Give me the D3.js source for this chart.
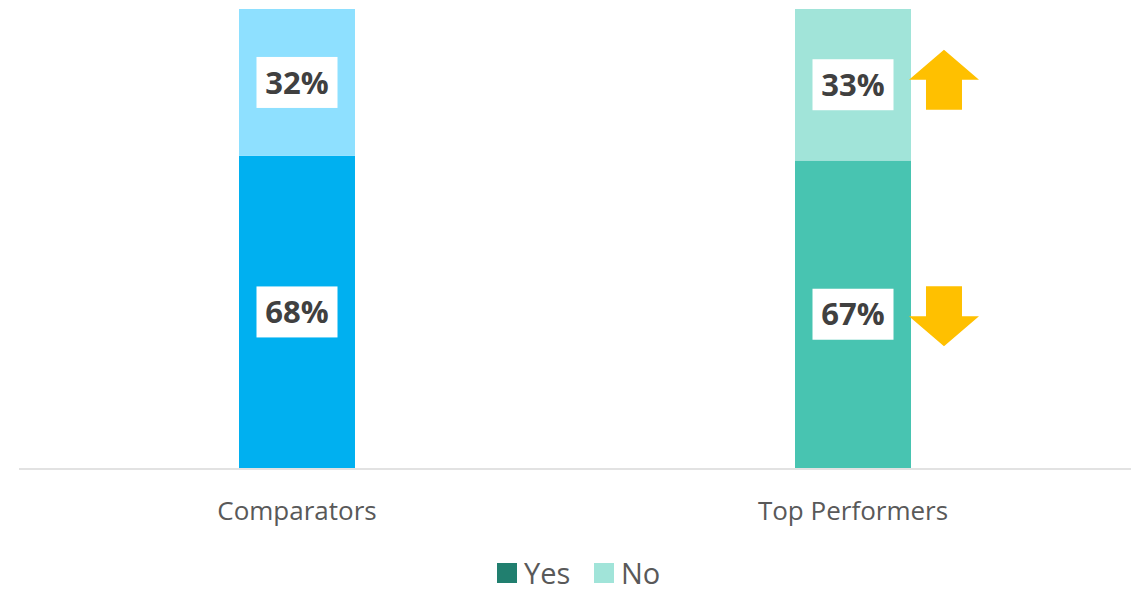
<!DOCTYPE html>
<html>
<head>
<meta charset="utf-8">
<script src="https://cdn.jsdelivr.net/npm/d3@7"></script>
<style>
  html, body { margin: 0; padding: 0; background: #fff; }
  svg { display: block; font-family: "Open Sans", "Noto Sans", sans-serif; }
</style>
</head>
<body>
<svg id="chart" width="1142" height="590"></svg>
<script>
// Share of respondents answering Yes / No, per group
const categories = ["Comparators", "Top Performers"];
const yesValues = [0.68, 0.67];
const noValues = [0.32, 0.33];
const seriesNames = ["Yes", "No"];
// Direction of change for each series in the Top Performers group
const changeDirections = ["down", "up"];

// Per-group fills (each group gets its own palette)
const yesFills = ["#00b0f0", "#48c4b1"];
const noFills = ["#8ee0ff", "#a1e4d9"];
const legendFills = ["#217f6f", "#a1e4d9"];

const svg = d3.select("#chart");

const x = d3.scaleBand()
  .domain(categories)
  .range([19, 1131])
  .paddingInner(0.7914)
  .paddingOuter(0.3957);

const y = d3.scaleLinear().domain([0, 1]).range([468, 9]);

const rows = categories.map((c, i) => ({
  cat: c, i,
  segs: [
    { key: "Yes", v0: 0, v1: yesValues[i], val: yesValues[i], fill: yesFills[i] },
    { key: "No", v0: yesValues[i], v1: yesValues[i] + noValues[i], val: noValues[i], fill: noFills[i] }
  ]
}));

const groups = svg.selectAll("g.bar")
  .data(rows).join("g").attr("class", "bar");

groups.selectAll("rect.seg")
  .data(d => d.segs.map(s => ({ ...s, cat: d.cat })))
  .join("rect")
  .attr("class", "seg")
  .attr("x", d => x(d.cat))
  .attr("width", x.bandwidth())
  .attr("y", d => y(d.v1))
  .attr("height", d => y(d.v0) - y(d.v1))
  .attr("fill", d => d.fill);

// Axis baseline
svg.append("line")
  .attr("x1", x.range()[0]).attr("x2", x.range()[1])
  .attr("y1", y(0) + 1).attr("y2", y(0) + 1)
  .attr("stroke", "#d9d9d9").attr("stroke-width", 1.6);

// Value labels in white boxes
const fmt = d3.format(".0%");
const labels = groups.selectAll("g.lbl")
  .data(d => d.segs.map(s => ({ ...s, cat: d.cat })))
  .join("g").attr("class", "lbl")
  .attr("transform", d => `translate(${x(d.cat) + x.bandwidth() / 2},${(y(d.v0) + y(d.v1)) / 2})`);

labels.append("rect")
  .attr("x", -40.5).attr("y", -25.5)
  .attr("width", 81).attr("height", 51)
  .attr("fill", "#fff");

labels.append("text")
  .attr("text-anchor", "middle")
  .attr("dy", "0.36em")
  .attr("font-size", 31)
  .attr("font-weight", 700)
  .attr("fill", "#404040")
  .text(d => fmt(d.val));

// Change arrows beside the Top Performers bar
const lastCat = categories[categories.length - 1];
const arrowCx = x(lastCat) + x.bandwidth() + 33;
const arrowSegs = rows[rows.length - 1].segs;
function arrowPath(dir) {
  // shaft 36 wide, head 70 wide; total length ~60
  const hw = 35, sw = 18, head = 30, len = 60;
  if (dir === "up") {
    return `M0,${-len / 2} L${hw},${-len / 2 + head} L${sw},${-len / 2 + head} L${sw},${len / 2} L${-sw},${len / 2} L${-sw},${-len / 2 + head} L${-hw},${-len / 2 + head} Z`;
  }
  return `M0,${len / 2} L${hw},${len / 2 - head} L${sw},${len / 2 - head} L${sw},${-len / 2} L${-sw},${-len / 2} L${-sw},${len / 2 - head} L${-hw},${len / 2 - head} Z`;
}
svg.selectAll("path.arrow")
  .data(arrowSegs.map((s, i) => ({ ...s, dir: changeDirections[i] })))
  .join("path")
  .attr("class", "arrow")
  .attr("transform", d => `translate(${arrowCx},${(y(d.v0) + y(d.v1)) / 2 + (d.dir === "up" ? -5 : 2)})`)
  .attr("d", d => arrowPath(d.dir))
  .attr("fill", "#ffc000");

// Category labels
svg.selectAll("text.cat")
  .data(categories)
  .join("text")
  .attr("class", "cat")
  .attr("x", d => x(d) + x.bandwidth() / 2)
  .attr("y", 520)
  .attr("text-anchor", "middle")
  .attr("font-size", 26)
  .attr("fill", "#595959")
  .text(d => d);

// Legend
const legendX = [497, 594];
const legend = svg.selectAll("g.legend")
  .data(seriesNames)
  .join("g").attr("class", "legend")
  .attr("transform", (d, i) => `translate(${legendX[i]},563)`);
legend.append("rect")
  .attr("width", 20).attr("height", 20)
  .attr("fill", (d, i) => legendFills[i]);
legend.append("text")
  .attr("x", 27).attr("y", 20.5)
  .attr("font-size", 29)
  .attr("fill", "#595959")
  .text(d => d);
</script>
</body>
</html>
